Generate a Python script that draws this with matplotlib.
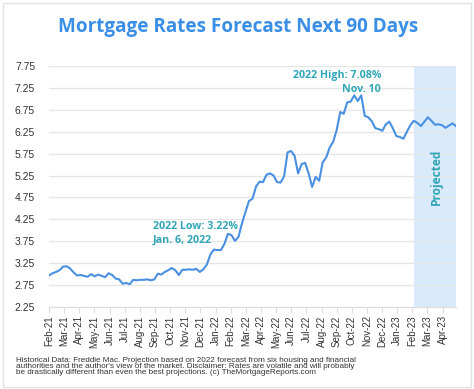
import matplotlib.pyplot as plt
from matplotlib.patches import Rectangle

# weekly 30-yr fixed rate, from late Feb 2021, then the projection
historical = [2.97, 3.02, 3.05, 3.09, 3.17, 3.18, 3.13, 3.04, 2.97, 2.98,
              2.96, 2.94, 3.00, 2.95, 2.99, 2.96, 2.93, 3.02, 2.98, 2.90,
              2.88, 2.78, 2.80, 2.77, 2.87, 2.86, 2.87, 2.87, 2.88, 2.86,
              2.88, 3.01, 2.99, 3.05, 3.09, 3.14, 3.09, 2.98, 3.10, 3.10,
              3.11, 3.10, 3.12, 3.05, 3.11, 3.22, 3.45, 3.56, 3.55, 3.55,
              3.69, 3.92, 3.89, 3.76, 3.85, 4.16, 4.42, 4.67, 4.72, 5.00,
              5.11, 5.10, 5.27, 5.30, 5.25, 5.10, 5.09, 5.23, 5.78, 5.81,
              5.70, 5.30, 5.51, 5.54, 5.30, 4.99, 5.22, 5.13, 5.55, 5.66,
              5.89, 6.02, 6.29, 6.70, 6.66, 6.92, 6.94, 7.08, 6.95, 7.08,
              6.61, 6.58, 6.49, 6.33, 6.31, 6.27, 6.42, 6.48, 6.33, 6.15,
              6.13, 6.09]
projected = [6.25, 6.40, 6.50, 6.45, 6.38, 6.48, 6.58, 6.50, 6.41, 6.42,
             6.40, 6.34, 6.39, 6.44, 6.38]

months = ['Feb-21', 'Mar-21', 'Apr-21', 'May-21', 'Jun-21', 'Jul-21', 'Aug-21',
          'Sep-21', 'Oct-21', 'Nov-21', 'Dec-21', 'Jan-22', 'Feb-22', 'Mar-22',
          'Apr-22', 'May-22', 'Jun-22', 'Jul-22', 'Aug-22', 'Sep-22', 'Oct-22',
          'Nov-22', 'Dec-22', 'Jan-23', 'Feb-23', 'Mar-23', 'Apr-23']
yticks = [2.25, 2.75, 3.25, 3.75, 4.25, 4.75, 5.25, 5.75, 6.25, 6.75, 7.25, 7.75]

rates = historical + projected
weeks = list(range(len(rates)))
week_per_month = 4.315
proj_start = 104

blue = '#4a90e2'
teal = '#2fa6b8'
plt.rcParams['font.family'] = ['Liberation Sans', 'DejaVu Sans']

fig = plt.figure(figsize=(4.74, 3.89), dpi=100)
fig.patches.append(Rectangle((0.006, 0.006), 0.988, 0.986, transform=fig.transFigure,
                             fill=False, edgecolor='#e2e2e2', linewidth=1))
ax = fig.add_axes([0.1034, 0.2108, 0.8586, 0.6195])

ax.axvspan(proj_start, len(rates) - 1, color='#d8eafb', zorder=0, linewidth=0)
ax.plot(weeks, rates, color=blue, linewidth=1.5, zorder=3)

ax.set_xlim(0, len(rates) - 1)
ax.set_ylim(2.25, 7.75)
ax.set_yticks(yticks)
ax.set_yticklabels(['%.2f' % v for v in yticks], fontsize=7.5, color='#333333')
ax.set_xticks([i * week_per_month for i in range(len(months))])
ax.set_xticklabels(months, rotation=90, fontsize=7, color='#333333')
ax.tick_params(axis='y', length=0, pad=10)
ax.tick_params(axis='x', length=4, color='#dddddd', pad=2)
ax.grid(axis='y', color='#e6e6e6', linewidth=1)
ax.set_axisbelow(True)
for s in ['top', 'right', 'left']:
    ax.spines[s].set_visible(False)
ax.spines['bottom'].set_color('#dddddd')

fig.text(0.503, 0.93, 'Mortgage Rates Forecast Next 90 Days', ha='center', va='center',
         fontsize=13.6, fontweight='bold', color='#3a8ee6', family='Open Sans')

ax.text(0.816, 0.96, '2022 High: 7.08%', transform=ax.transAxes, ha='right', va='center',
        fontsize=7.7, fontweight='bold', color=teal, family='Open Sans')
ax.text(0.816, 0.903, 'Nov. 10', transform=ax.transAxes, ha='right', va='center',
        fontsize=7.7, fontweight='bold', color=teal, family='Open Sans')
ax.text(0.256, 0.336, '2022 Low: 3.22%', transform=ax.transAxes, ha='left', va='center',
        fontsize=7.7, fontweight='bold', color=teal, family='Open Sans')
ax.text(0.256, 0.276, 'Jan. 6, 2022', transform=ax.transAxes, ha='left', va='center',
        fontsize=7.7, fontweight='bold', color=teal, family='Open Sans')
ax.text(0.953, 0.54, 'Projected', transform=ax.transAxes, ha='center', va='center',
        rotation=90, fontsize=8.6, fontweight='bold', color=teal, family='Open Sans')

fig.text(0.034, 0.058,
         "Historical Data: Freddie Mac. Projection based on 2022 forecast from six housing and financial\n"
         "authorities and the author's view of the market. Disclaimer: Rates are volatile and will probably\n"
         "be drastically different than even the best projections. (c) TheMortgageReports.com",
         ha='left', va='center', fontsize=5.9, linespacing=0.85, color='#333333')

fig.savefig('out.png', dpi=100)
